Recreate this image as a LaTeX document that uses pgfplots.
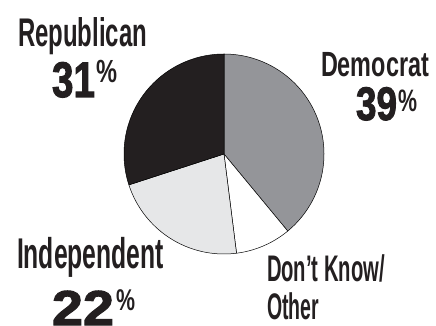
\documentclass[border=0pt]{standalone}
\usepackage{pgfplots}
\pgfplotsset{compat=1.18}
\usepackage{fontspec}
\setmainfont{Liberation Sans}
\newfontfamily\lab{Liberation Sans Bold}
\newfontfamily\num{Liberation Sans Bold}[FakeBold=2.2]
\usepackage{graphicx}
\definecolor{demgray}{HTML}{949599}
\definecolor{repblack}{HTML}{231F20}
\definecolor{indgray}{HTML}{E6E7E8}
% shares (percent) as drawn: Democrat, Don't know/Other, Independent, Republican
\def\dem{39}\def\dk{9}\def\ind{22}
\newcommand\fs[2]{\fontsize{#1bp}{#1bp}\selectfont #2}
\begin{document}
\begin{tikzpicture}
\begin{axis}[
  width=436bp, height=326bp, scale only axis,
  xmin=0, xmax=436, ymin=0, ymax=326,
  hide axis, clip=false]
% Democrat
\addplot[fill=demgray, draw=black, line width=0.5pt, domain={90-3.6*\dem}:90, samples=90, variable=\t]
  ({224+100*cos(t)},{172+100*sin(t)}) -- (axis cs:224,172) -- cycle;
% Don't know / Other
\addplot[fill=white, draw=black, line width=0.5pt, domain={90-3.6*(\dem+\dk)}:{90-3.6*\dem}, samples=30, variable=\t]
  ({224+100*cos(t)},{172+100*sin(t)}) -- (axis cs:224,172) -- cycle;
% Independent
\addplot[fill=indgray, draw=black, line width=0.5pt, domain={90-3.6*(\dem+\dk+\ind)}:{90-3.6*(\dem+\dk)}, samples=60, variable=\t]
  ({224+100*cos(t)},{172+100*sin(t)}) -- (axis cs:224,172) -- cycle;
% Republican
\addplot[fill=repblack, draw=black, line width=0.5pt, domain=-270:{90-3.6*(\dem+\dk+\ind)}, samples=80, variable=\t]
  ({224+100*cos(t)},{172+100*sin(t)}) -- (axis cs:224,172) -- cycle;

\begin{scope}[every node/.style={inner sep=0pt, outer sep=0pt, text=repblack}]
\node[anchor=base west] at (axis cs:18,279) {\resizebox{129bp}{\height}{\lab\fs{40}{Republican}}};
\node[anchor=base west] at (axis cs:52,229) {\resizebox{43bp}{\height}{\num\fs{50}{31}}};
\node[anchor=base west] at (axis cs:96,243) {\resizebox{21bp}{\height}{\lab\fs{32}{\%}}};

\node[anchor=base west] at (axis cs:321,249) {\resizebox{108bp}{\height}{\lab\fs{35}{Democrat}}};
\node[anchor=base west] at (axis cs:356,206) {\resizebox{41bp}{\height}{\num\fs{47}{39}}};
\node[anchor=base west] at (axis cs:398,214) {\resizebox{19bp}{\height}{\lab\fs{31}{\%}}};

\node[anchor=base west] at (axis cs:17,57) {\resizebox{147bp}{\height}{\lab\fs{43}{Independent}}};
\node[anchor=base west] at (axis cs:52,1) {\resizebox{62bp}{\height}{\num\fs{49}{22}}};
\node[anchor=base west] at (axis cs:116,15) {\resizebox{19bp}{\height}{\lab\fs{30}{\%}}};

\node[anchor=base west] at (axis cs:267,44) {\resizebox{118bp}{\height}{\lab\fs{37}{Don’t Know/}}};
\node[anchor=base west] at (axis cs:267,6) {\resizebox{52bp}{\height}{\lab\fs{37}{Other}}};
\end{scope}
\end{axis}
\pgfresetboundingbox
\path (0,0) rectangle (436bp,326bp);
\end{tikzpicture}
\end{document}
